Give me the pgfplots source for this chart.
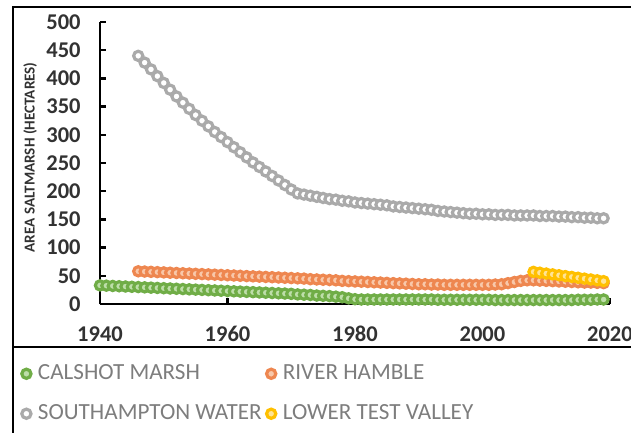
\documentclass[border=0pt]{standalone}
\usepackage{pgfplots}
\pgfplotsset{compat=1.18}
\usepackage{pgfplotstable}
\usepackage{fontspec}
\setmainfont{Carlito}
\definecolor{cgreen}{RGB}{112,173,71}
\definecolor{cgreenf}{RGB}{190,222,170}
\definecolor{corange}{RGB}{238,135,80}
\definecolor{corangef}{RGB}{248,200,170}
\definecolor{cgray}{RGB}{170,170,170}
\definecolor{cyellow}{RGB}{255,192,0}
\definecolor{cyellowf}{RGB}{255,228,150}
\definecolor{legtext}{RGB}{125,125,125}
\definecolor{ticktext}{RGB}{50,50,50}

\pgfplotstableread{
year val
1940 33
1941 32.5
1942 32
1943 31.5
1944 31
1945 30.5
1946 30
1947 29.5
1948 29
1949 28.5
1950 28
1951 27.5
1952 27
1953 26.5
1954 26
1955 25.5
1956 25
1957 24.5
1958 24
1959 23.5
1960 23
1961 22.5
1962 22
1963 21.5
1964 21
1965 20.5
1966 20
1967 19.5
1968 19
1969 18.5
1970 18
1971 17
1972 16.5
1973 16
1974 15
1975 14.5
1976 14
1977 13
1978 12
1979 10
1980 8.5
1981 8
1982 8
1983 8
1984 8
1985 8
1986 8
1987 8
1988 8
1989 8
1990 8
1991 8
1992 8
1993 7.5
1994 7.5
1995 7.5
1996 7.5
1997 7.5
1998 7.5
1999 7.5
2000 7.5
2001 7.5
2002 7
2003 7
2004 7
2005 7
2006 7
2007 7
2008 7
2009 7
2010 7
2011 7
2012 7
2013 7
2014 7
2015 7.5
2016 7.5
2017 7.5
2018 8
2019 8
}\calshot

\pgfplotstableread{
year val
1946 58
1947 57.5
1948 57
1949 56.5
1950 56
1951 55.5
1952 55
1953 54.5
1954 54
1955 53.5
1956 53
1957 52.5
1958 52
1959 51.5
1960 51
1961 50.5
1962 50
1963 49.5
1964 49
1965 48.5
1966 48
1967 47.5
1968 47
1969 46.5
1970 46
1971 45.5
1972 45
1973 44
1974 43.5
1975 43
1976 42.5
1977 42
1978 41
1979 40.5
1980 40
1981 39.5
1982 39
1983 38.5
1984 38
1985 37.5
1986 37
1987 36.5
1988 36
1989 35.5
1990 35
1991 35
1992 34.5
1993 34.5
1994 34
1995 34
1996 34
1997 34
1998 34
1999 34
2000 34
2001 34
2002 34.5
2003 35
2004 37
2005 39
2006 41
2007 42
2008 42
2009 41.5
2010 41
2011 40.5
2012 40
2013 39.5
2014 39
2015 38.5
2016 38
2017 38
2018 37.5
2019 37
}\hamble

\pgfplotstableread{
year val
1946 440
1947 428
1948 416
1949 404
1950 392
1951 380
1952 368
1953 357
1954 346
1955 335
1956 325
1957 315
1958 305
1959 296
1960 287
1961 278
1962 269
1963 260
1964 251
1965 243
1966 235
1967 227
1968 219
1969 211
1970 203
1971 196
1972 194
1973 192
1974 190
1975 188
1976 186
1977 185
1978 183
1979 182
1980 180
1981 179
1982 178
1983 177
1984 176
1985 175
1986 173
1987 172
1988 171
1989 170
1990 169
1991 168
1992 167
1993 165
1994 164
1995 163
1996 162
1997 161
1998 160
1999 160
2000 159
2001 159
2002 158
2003 158
2004 158
2005 157
2006 157
2007 157
2008 157
2009 156
2010 156
2011 156
2012 155
2013 155
2014 154
2015 154
2016 153
2017 153
2018 152
2019 152
}\southampton

\pgfplotstableread{
year val
2008 57
2009 55.5
2010 54
2011 52.5
2012 51
2013 49.5
2014 48
2015 46.5
2016 45
2017 43.5
2018 42
2019 40.5
}\testvalley

\begin{document}
\begin{tikzpicture}
\useasboundingbox (0,0) rectangle (315.5bp,216.5bp);
\draw[line width=1bp] (6.5bp,-2bp) -- (6.5bp,213bp) -- (318bp,213bp);
\draw[line width=1bp] (6.5bp,43bp) -- (318bp,43bp);
\begin{axis}[
  at={(50bp,64.5bp)}, anchor=south west,
  scale only axis, width=255bp, height=141bp,
  xmin=1940, xmax=2020, ymin=0, ymax=500,
  axis lines=left,
  axis line style={line width=1.4bp, black, -},
  xtick={1940,1960,...,2020},
  ytick={0,50,...,500},
  tick align=inside,
  major tick length=3bp,
  tick style={line width=1.2bp, black},
  clip=false,
  /pgf/number format/assume math mode=true,
  /pgf/number format/1000 sep={},
  tick label style={font=\bfseries\fontsize{11.3}{13}\selectfont, text=ticktext},
  yticklabel style={anchor=east, inner sep=0pt, xshift=-9.5bp},
  xticklabel style={anchor=north, inner sep=0pt, yshift=-11bp},
  ylabel={AREA SALTMARSH (HECTARES)},
  ylabel style={at={(axis description cs:-0.137,0.52)}, anchor=center, rotate=0,
    font=\bfseries\fontsize{7.6}{8}\selectfont, text=ticktext},
  legend columns=2,
  legend cell align=left,
  legend style={at={(axis description cs:-0.16,-0.20)}, anchor=north west,
    draw=none, fill=none, inner sep=0pt,
    font=\fontsize{11.6}{13}\selectfont, text=legtext,
    row sep=7bp,
    /tikz/every even column/.append style={column sep=-1bp}},
  legend image code/.code={\path (-3bp,0) (3bp,0); \draw plot coordinates {(0bp,0bp)};},
  every axis plot/.append style={only marks, mark=*, mark size=2.3bp, line width=1.6bp},
]
\addplot[draw=cgreen, fill=cgreenf, mark options={draw=cgreen, fill=cgreenf}] table[x=year,y=val]{\calshot};
\addlegendentry{CALSHOT MARSH}
\addplot[draw=corange, fill=corangef, mark options={draw=corange, fill=corangef}] table[x=year,y=val]{\hamble};
\addlegendentry{RIVER HAMBLE}
\addplot[draw=cgray, fill=white, mark options={draw=cgray, fill=white}] table[x=year,y=val]{\southampton};
\addlegendentry{SOUTHAMPTON WATER}
\addplot[draw=cyellow, fill=cyellowf, mark options={draw=cyellow, fill=cyellowf}] table[x=year,y=val]{\testvalley};
\addlegendentry{LOWER TEST VALLEY}
\end{axis}
\end{tikzpicture}
\end{document}
